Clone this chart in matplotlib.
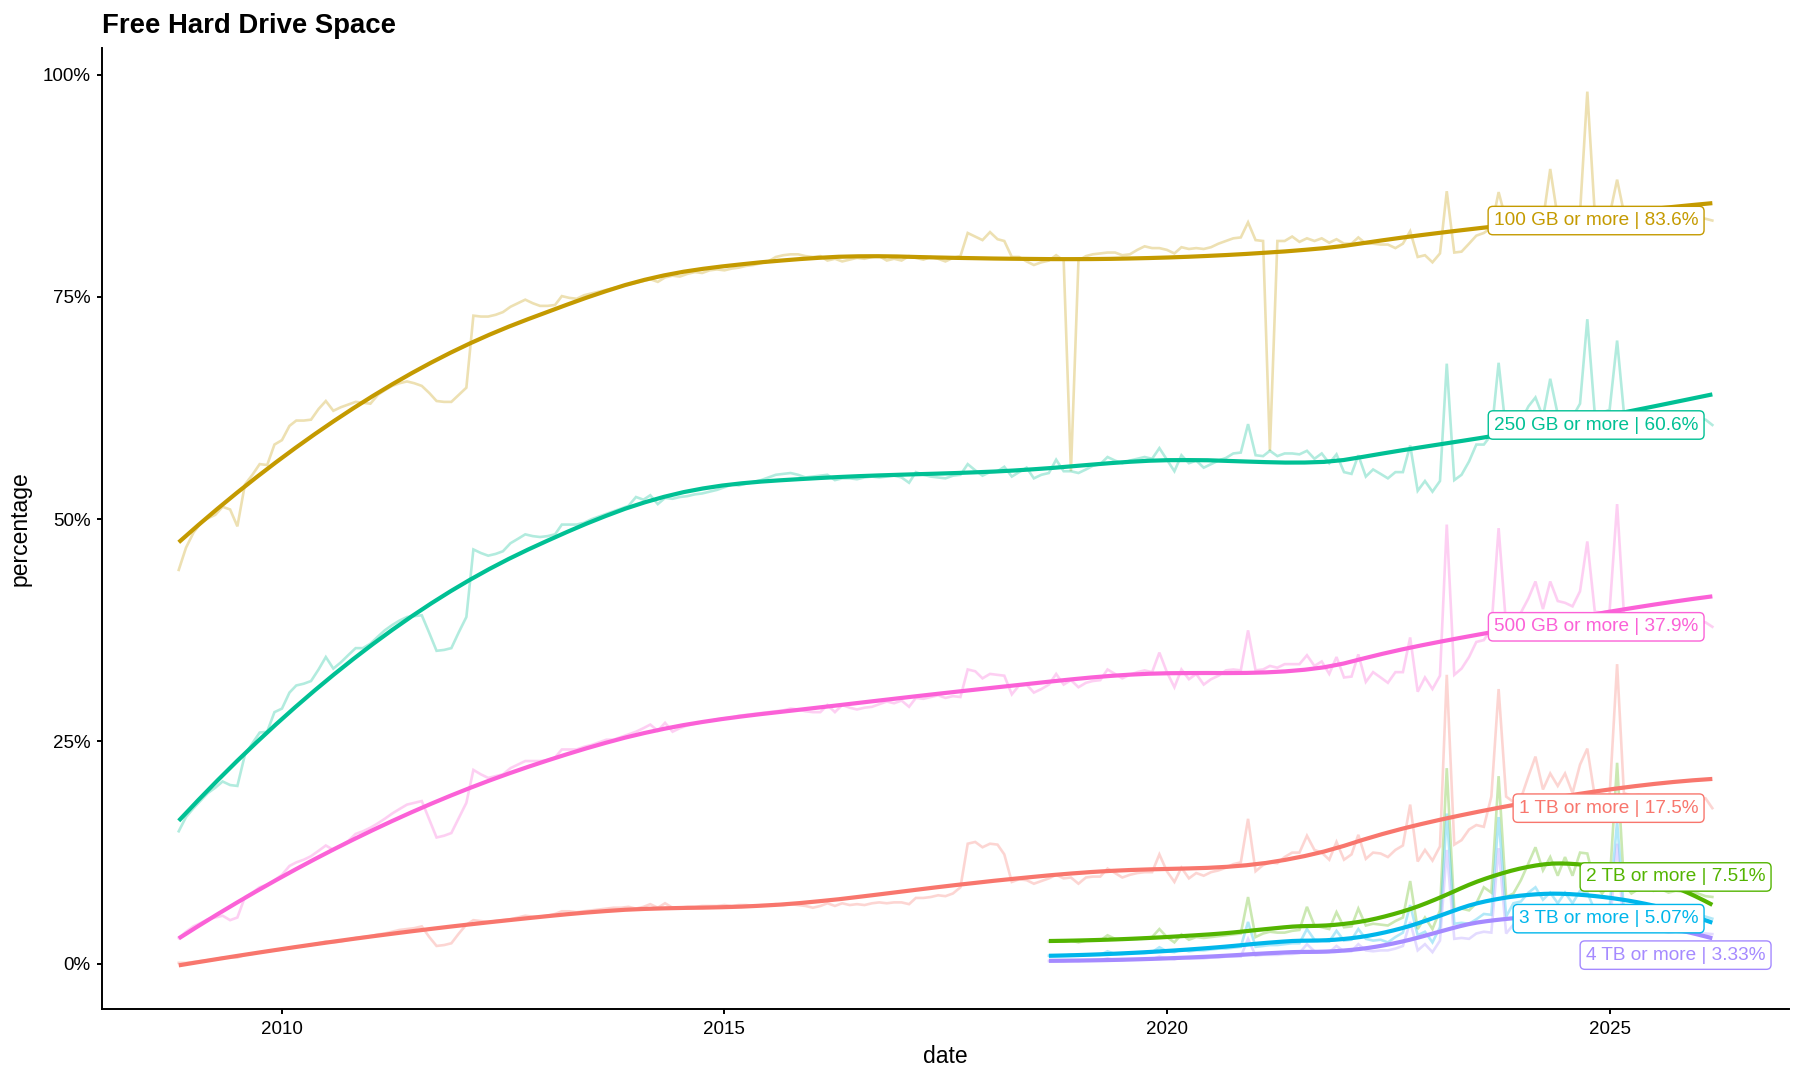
import numpy as np
import pandas as pd
import matplotlib
matplotlib.use("Agg")
import matplotlib.pyplot as plt
import matplotlib.dates as mdates
from matplotlib.ticker import FuncFormatter

plt.rcParams['font.family'] = ['Liberation Sans', 'DejaVu Sans']

# monthly survey dates
dates_long = pd.date_range('2008-11-01', periods=209, freq='MS')   # Nov 2008 .. Mar 2026
dates_short = pd.date_range('2018-09-01', periods=91, freq='MS')   # Sep 2018 .. Mar 2026

gb100 = [44.3, 46.8,
         48.5, 49.6, 50.1, 50.5, 51.4, 51.1, 49.2, 53.9, 55.0, 56.2, 56.1, 58.4,
         58.9, 60.5, 61.1, 61.1, 61.2, 62.4, 63.3, 62.2, 62.6, 62.9, 63.2, 63.1,
         63.0, 64.0, 64.5, 65.0, 65.3, 65.5, 65.3, 65.0, 64.2, 63.3, 63.2, 63.2,
         64.0, 64.8, 72.9, 72.8, 72.8, 73.0, 73.3, 73.9, 74.3, 74.7, 74.3, 74.0,
         74.0, 74.1, 75.1, 74.9, 74.8, 75.2, 75.4, 75.6, 75.8, 76.0, 76.2, 76.4,
         76.6, 76.8, 77.0, 76.7, 77.2, 77.4, 77.3, 77.6, 77.8, 77.7, 78.0, 78.1,
         78.0, 78.2, 78.3, 78.5, 78.6, 78.8, 79.0, 79.5, 79.7, 79.8, 79.8, 79.6,
         79.5, 79.6, 79.1, 79.3, 79.0, 79.2, 79.4, 79.3, 79.5, 79.6, 79.1, 79.3,
         79.1, 79.6, 79.4, 79.2, 79.5, 79.3, 79.0, 79.4, 79.6, 82.2, 81.8, 81.4,
         82.3, 81.5, 81.3, 79.5, 79.5, 79.0, 78.6, 78.9, 79.1, 79.7, 79.1, 55.4,
         79.1, 79.6, 79.8, 79.9, 80.0, 80.0, 79.7, 79.8, 80.3, 80.7, 80.5, 80.5,
         80.3, 79.9, 80.6, 80.4, 80.5, 80.4, 80.6, 81.0, 81.3, 81.6, 81.7, 83.4,
         81.4, 81.3, 57.7, 81.3, 81.3, 81.8, 81.2, 81.6, 81.3, 81.6, 81.1, 81.5,
         81.0, 81.0, 81.7, 81.0, 81.0, 80.9, 80.9, 80.5, 81.0, 82.4, 79.5, 79.7,
         78.9, 79.9, 86.9, 80.0, 80.1, 81.0, 81.9, 82.2, 82.8, 86.8, 83.6, 83.2,
         83.3, 83.8, 84.5, 83.6, 89.4, 83.9, 84.2, 83.7, 84.5, 98.1, 84.3, 84.0,
         84.2, 88.2, 84.5, 84.1, 84.3, 84.0, 84.4, 84.2, 84.0, 84.3, 84.1, 84.0,
         83.9, 83.8, 83.6]

gb250 = [14.9, 16.5,
         17.5, 18.4, 19.2, 19.8, 20.5, 20.1, 20.0, 23.5, 24.8, 26.0, 26.1, 28.3,
         28.7, 30.5, 31.3, 31.5, 31.8, 33.1, 34.5, 33.2, 33.9, 34.7, 35.5, 35.5,
         36.0, 36.8, 37.5, 38.1, 38.6, 39.0, 39.1, 39.2, 37.2, 35.2, 35.3, 35.5,
         37.3, 39.0, 46.6, 46.2, 45.9, 46.1, 46.4, 47.3, 47.8, 48.3, 48.1, 48.0,
         48.1, 48.3, 49.4, 49.4, 49.4, 49.6, 50.0, 50.3, 50.6, 50.9, 51.2, 51.5,
         52.5, 52.2, 52.7, 51.7, 52.4, 52.3, 52.5, 52.6, 52.8, 52.9, 53.1, 53.3,
         53.6, 53.9, 53.8, 54.0, 54.2, 54.4, 54.7, 55.0, 55.1, 55.2, 55.0, 54.7,
         54.8, 54.9, 55.0, 54.4, 54.6, 54.6, 54.5, 54.7, 54.8, 54.7, 54.8, 54.9,
         54.7, 54.1, 55.3, 55.0, 54.8, 54.7, 54.6, 54.9, 55.0, 56.2, 55.5, 54.9,
         55.3, 55.4, 55.9, 54.8, 55.3, 55.8, 54.6, 55.0, 55.2, 56.7, 55.4, 55.4,
         55.2, 55.6, 56.0, 56.2, 57.0, 56.6, 56.3, 56.6, 56.8, 57.0, 56.8, 58.0,
         56.7, 55.4, 57.2, 56.3, 56.6, 55.8, 56.2, 56.6, 56.9, 57.4, 57.5, 60.7,
         57.2, 57.1, 57.7, 57.1, 57.4, 57.4, 57.3, 57.7, 56.8, 57.4, 56.3, 57.3,
         55.3, 55.1, 57.2, 54.8, 55.6, 55.1, 54.6, 55.3, 55.3, 58.3, 53.2, 54.3,
         53.1, 54.3, 67.5, 54.4, 55.0, 56.5, 58.4, 58.4, 59.5, 67.6, 59.8, 60.0,
         61.0, 62.7, 63.7, 61.5, 65.8, 61.8, 62.0, 61.5, 63.0, 72.5, 61.8, 62.0,
         62.3, 70.1, 62.0, 61.8, 62.0, 61.7, 61.9, 61.6, 61.8, 61.5, 61.6, 61.4,
         61.3, 61.2, 60.6]

gb500 = [2.9, 3.6,
         4.2, 4.6, 5.0, 5.2, 5.4, 4.9, 5.2, 7.5, 8.0, 8.6, 8.9, 9.4,
         10.0, 11.0, 11.4, 11.7, 12.1, 12.7, 13.3, 12.8, 13.3, 13.8, 14.6, 14.9,
         15.3, 15.8, 16.3, 16.9, 17.4, 17.9, 18.1, 18.3, 16.2, 14.2, 14.4, 14.7,
         16.4, 18.1, 21.8, 21.3, 20.9, 21.1, 21.3, 22.0, 22.4, 22.8, 22.8, 22.8,
         22.9, 23.2, 24.1, 24.1, 24.1, 24.4, 24.6, 24.9, 25.2, 25.2, 25.5, 25.8,
         26.1, 26.5, 26.9, 26.2, 27.1, 26.1, 26.5, 26.8, 27.0, 27.2, 27.3, 27.5,
         27.6, 27.7, 27.9, 28.0, 28.1, 28.2, 28.3, 28.4, 28.5, 28.7, 28.6, 28.4,
         28.3, 28.3, 29.1, 28.3, 29.1, 28.8, 28.6, 28.8, 28.9, 29.2, 29.5, 29.3,
         29.6, 28.9, 29.9, 29.8, 30.0, 30.2, 29.9, 30.1, 30.0, 33.1, 32.9, 32.1,
         32.6, 32.5, 32.4, 30.3, 31.3, 31.4, 30.5, 30.9, 31.4, 32.6, 31.4, 31.9,
         31.1, 31.6, 31.8, 31.9, 33.1, 32.6, 32.1, 32.5, 32.8, 33.0, 32.8, 35.0,
         32.8, 31.1, 33.1, 32.0, 32.6, 31.4, 32.0, 32.4, 33.0, 33.1, 33.0, 37.5,
         33.0, 33.1, 33.5, 33.3, 33.7, 33.7, 33.7, 34.7, 33.5, 34.0, 32.6, 34.5,
         32.2, 32.3, 34.8, 31.7, 32.8, 32.2, 31.6, 32.8, 32.8, 36.7, 30.6, 32.2,
         30.9, 32.4, 49.4, 32.5, 33.2, 34.5, 36.2, 36.4, 37.7, 49.0, 38.0, 38.5,
         39.5, 41.1, 43.0, 39.9, 43.0, 40.8, 40.6, 40.2, 41.9, 47.5, 39.6, 39.5,
         39.7, 51.7, 39.4, 39.2, 39.2, 39.0, 39.0, 38.8, 38.8, 38.7, 38.6, 38.6,
         38.5, 38.4, 37.9]

tb1 = [0.1, 0.1,
       0.2, 0.3, 0.4, 0.5, 0.7, 0.7, 0.7, 1.0, 1.1, 1.3, 1.4, 1.5,
       1.6, 1.8, 1.9, 2.0, 2.1, 2.3, 2.5, 2.4, 2.5, 2.7, 2.9, 3.0,
       3.1, 3.3, 3.4, 3.6, 3.8, 3.9, 4.0, 4.2, 3.0, 2.0, 2.1, 2.3,
       3.4, 4.4, 4.9, 4.8, 4.7, 4.8, 4.9, 5.0, 5.2, 5.4, 5.3, 5.3,
       5.4, 5.6, 5.9, 5.9, 5.8, 5.9, 6.0, 6.1, 6.2, 6.3, 6.3, 6.4,
       6.2, 6.4, 6.7, 6.3, 6.8, 6.3, 6.3, 6.4, 6.4, 6.5, 6.5, 6.5,
       6.6, 6.5, 6.6, 6.6, 6.5, 6.6, 6.6, 6.7, 6.6, 6.7, 6.6, 6.5,
       6.3, 6.5, 6.8, 6.5, 6.8, 6.6, 6.7, 6.6, 6.8, 6.9, 6.8, 6.9,
       6.9, 6.7, 7.4, 7.4, 7.5, 7.7, 7.6, 7.9, 8.6, 13.5, 13.7, 13.1,
       13.5, 13.4, 12.3, 9.2, 9.5, 9.4, 9.0, 9.3, 9.6, 10.0, 9.6, 9.7,
       9.0, 9.7, 9.8, 9.8, 10.7, 10.2, 9.7, 10.0, 10.2, 10.3, 10.3, 12.3,
       10.4, 9.2, 10.8, 9.6, 10.2, 9.9, 10.3, 10.5, 10.8, 11.2, 11.4, 16.3,
       10.4, 11.1, 11.4, 11.3, 12.0, 12.5, 12.5, 14.4, 12.8, 12.5, 11.7, 13.7,
       11.7, 12.3, 14.5, 11.8, 12.5, 12.4, 12.0, 12.8, 13.3, 17.9, 11.5, 12.8,
       11.6, 13.2, 32.5, 13.4, 13.9, 15.1, 15.6, 15.4, 18.8, 30.9, 18.8, 18.2,
       18.6, 21.1, 23.3, 19.6, 21.4, 20.0, 21.4, 19.2, 22.4, 24.2, 18.8, 19.0,
       18.9, 33.7, 19.2, 18.9, 19.0, 18.8, 18.9, 18.6, 18.7, 18.5, 18.6, 18.4,
       18.3, 18.6, 17.5]

tb2 = [2.5, 2.6, 2.5, 2.6,
       2.4, 2.6, 2.7, 2.6, 3.2, 2.8, 2.7, 2.8, 2.8, 2.9, 3.0, 3.9,
       3.0, 2.4, 3.3, 2.7, 3.0, 2.9, 3.0, 3.1, 3.2, 3.3, 3.4, 7.5,
       3.0, 3.4, 3.6, 3.5, 3.5, 3.7, 3.8, 6.4, 4.3, 4.1, 3.9, 5.8,
       4.1, 4.2, 6.2, 4.3, 4.5, 4.4, 4.3, 4.8, 5.2, 9.3, 3.9, 5.2,
       3.9, 6.0, 22.0, 6.0, 6.2, 6.0, 6.8, 8.6, 8.0, 21.1, 7.5, 7.9,
       9.4, 11.3, 13.1, 10.5, 12.0, 9.9, 12.0, 9.9, 12.5, 12.4, 9.0, 7.9,
       9.0, 22.6, 9.0, 7.9, 8.4, 9.0, 8.2, 8.4, 8.0, 8.2, 8.1, 8.0,
       7.9, 7.6, 7.51]

tb3 = [0.9, 0.9, 0.9, 1.0,
       0.9, 1.0, 1.0, 1.0, 1.4, 1.1, 1.1, 1.2, 1.2, 1.2, 1.3, 1.85,
       1.4, 1.3, 1.6, 1.4, 1.5, 1.5, 1.6, 1.7, 1.7, 1.8, 1.9, 4.7,
       1.9, 2.0, 2.1, 2.1, 2.2, 2.3, 2.3, 3.9, 2.7, 2.6, 2.5, 3.7,
       2.6, 2.7, 3.9, 2.8, 2.6, 2.7, 2.4, 3.0, 3.5, 6.6, 3.2, 3.6,
       2.4, 4.1, 16.9, 4.5, 4.6, 4.5, 5.0, 5.6, 5.5, 16.5, 5.3, 6.8,
       7.0, 8.0, 8.6, 7.2, 8.0, 6.8, 8.0, 6.8, 8.2, 8.0, 6.0, 6.5,
       6.3, 16.0, 6.0, 5.8, 5.9, 6.0, 5.7, 5.8, 5.6, 5.7, 5.5, 5.6,
       5.4, 5.3, 5.07]

tb4 = [0.3, 0.3, 0.3, 0.4,
       0.3, 0.4, 0.4, 0.4, 0.6, 0.4, 0.4, 0.5, 0.5, 0.5, 0.5, 0.8,
       0.6, 0.5, 0.7, 0.6, 0.6, 0.6, 0.7, 0.7, 0.8, 0.8, 0.8, 2.8,
       0.9, 1.0, 1.0, 1.0, 1.1, 1.1, 1.2, 2.2, 1.4, 1.3, 1.3, 2.0,
       1.4, 1.4, 2.2, 1.5, 1.4, 1.5, 1.5, 1.7, 2.0, 4.7, 1.5, 2.2,
       1.3, 2.6, 12.8, 2.8, 2.9, 2.8, 3.4, 3.6, 3.5, 13.0, 3.4, 4.4,
       4.6, 5.2, 5.6, 4.8, 5.2, 4.5, 5.2, 4.5, 5.4, 5.3, 4.0, 4.2,
       4.0, 13.5, 3.8, 3.6, 3.7, 3.8, 3.6, 3.7, 3.5, 3.6, 3.5, 3.5,
       3.4, 3.4, 3.33]

# factor order (alphabetical, as ggplot sorts them) with default hue colours
groups = [
    ("1 TB or more",   dates_long,  tb1,   "#F8766D"),
    ("100 GB or more", dates_long,  gb100, "#C49A00"),
    ("2 TB or more",   dates_short, tb2,   "#53B400"),
    ("250 GB or more", dates_long,  gb250, "#00C094"),
    ("3 TB or more",   dates_short, tb3,   "#00B6EB"),
    ("4 TB or more",   dates_short, tb4,   "#A58AFF"),
    ("500 GB or more", dates_long,  gb500, "#FB61D7"),
]

# label nudges in pixels (repelled labels)
nudge = {"2 TB or more": (53, 20), "4 TB or more": (53, -21)}


def loess(x, y, span=0.5, n_out=80):
    q = int(np.floor(len(x) * span))
    grid = np.linspace(x.min(), x.max(), n_out)
    fit = []
    for g in grid:
        d = np.abs(x - g)
        h = np.sort(d)[q - 1]
        w = (1 - np.clip(d / h, 0, 1) ** 3) ** 3
        sw = np.sqrt(w)
        A = np.column_stack([np.ones_like(x), x - g, (x - g) ** 2]) * sw[:, None]
        coef = np.linalg.lstsq(A, y * sw, rcond=None)[0]
        fit.append(coef[0])
    return grid, np.array(fit)


fig = plt.figure(figsize=(18, 10.8), dpi=100)
ax = fig.add_axes([0.0567, 0.0657, 0.9372, 0.8899])

smooths = []
allx, ally = [], []
for name, d, v, col in groups:
    xn = mdates.date2num(d)
    ax.plot(xn, v, color=col, alpha=0.3, lw=1.9, solid_joinstyle='miter')
    yrs = xn / 365.25
    gx, gy = loess(yrs, np.array(v, dtype=float))
    smooths.append((name, gx * 365.25, gy, col))
    allx.extend(xn)
    ally.extend(v)
    ally.extend(gy)

for name, gx, gy, col in smooths:
    ax.plot(gx, gy, color=col, lw=3.0, solid_capstyle='butt')

for name, d, v, col in groups:
    xl = mdates.date2num(d[-1])
    dx, dy = nudge.get(name, (-14, 0))
    ax.annotate(f"{name} | {v[-1]:.3g}%", xy=(xl, v[-1]), xytext=(dx, dy),
                textcoords='offset pixels', ha='right', va='center',
                fontsize=13.7, color=col,
                bbox=dict(boxstyle='round,pad=0.3,rounding_size=0.25',
                          fc='white', ec=col, lw=1.0))

xmin, xmax = min(allx), max(allx)
ymin, ymax = min(ally), max(ally)
ax.set_xlim(xmin - 0.05 * (xmax - xmin), xmax + 0.05 * (xmax - xmin))
ax.set_ylim(ymin - 0.05 * (ymax - ymin), ymax + 0.05 * (ymax - ymin))

ax.xaxis.set_major_locator(mdates.YearLocator(5))
ax.xaxis.set_major_formatter(mdates.DateFormatter('%Y'))
ax.set_yticks([0, 25, 50, 75, 100])
ax.yaxis.set_major_formatter(FuncFormatter(lambda y, p: f"{y:.0f}%"))

for s in ['top', 'right']:
    ax.spines[s].set_visible(False)
for s in ['left', 'bottom']:
    ax.spines[s].set_linewidth(1.4)
ax.tick_params(axis='both', length=3.6, width=1.4, labelsize=13.5, colors='black')
ax.tick_params(axis='x', pad=5)
ax.tick_params(axis='y', pad=4.5)

ax.set_xlabel('date', fontsize=16.5, labelpad=5)
ax.set_ylabel('percentage', fontsize=16.5, labelpad=8)
ax.set_title('Free Hard Drive Space', loc='left', fontsize=19.8,
             fontweight='bold', pad=11)

fig.savefig('out.png', dpi=100)
